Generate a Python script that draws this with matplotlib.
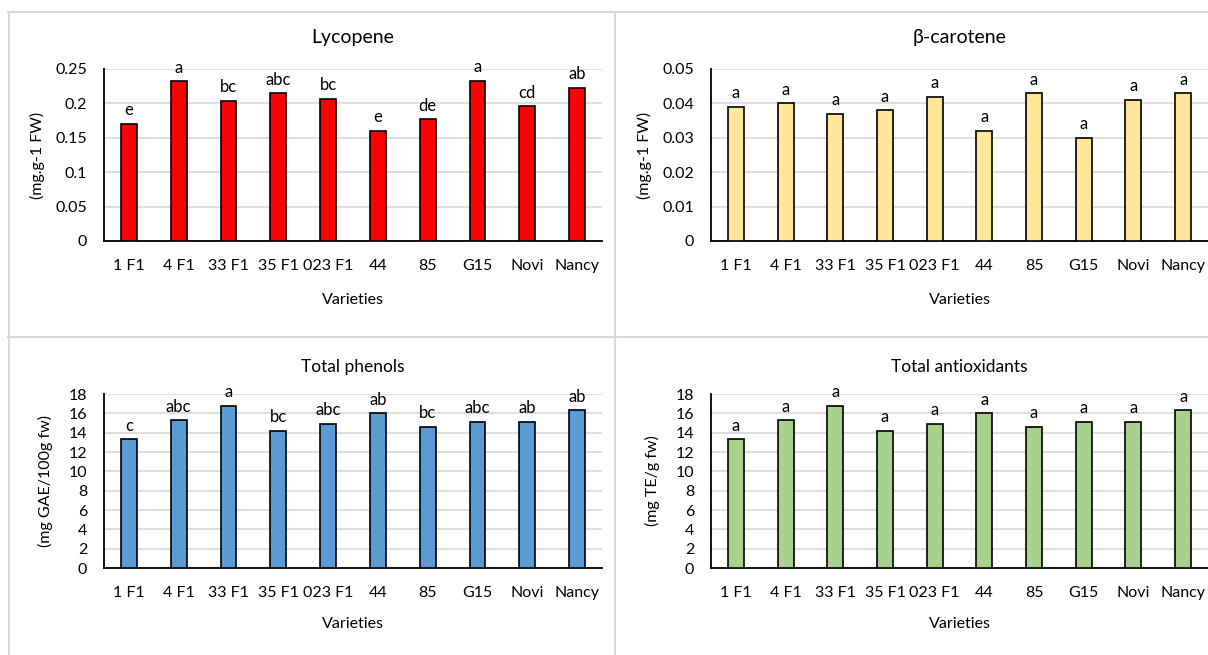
import matplotlib
matplotlib.use("Agg")
import matplotlib.pyplot as plt
from matplotlib.lines import Line2D

plt.rcParams['font.family'] = ['Lato', 'DejaVu Sans']

varieties = ["1 F1", "4 F1", "33 F1", "35 F1", "023 F1", "44", "85", "G15", "Novi", "Nancy"]

lycopene = [0.170, 0.232, 0.204, 0.215, 0.207, 0.160, 0.177, 0.233, 0.196, 0.223]
lycopene_letters = ["e", "a", "bc", "abc", "bc", "e", "de", "a", "cd", "ab"]

carotene = [0.039, 0.040, 0.037, 0.038, 0.042, 0.032, 0.043, 0.030, 0.041, 0.043]
carotene_letters = ["a"] * 10

phenols = [13.3, 15.3, 16.8, 14.2, 14.9, 16.0, 14.6, 15.1, 15.1, 16.3]
phenols_letters = ["c", "abc", "a", "bc", "abc", "ab", "bc", "abc", "ab", "ab"]

antioxidants = [13.3, 15.3, 16.8, 14.2, 14.9, 16.0, 14.6, 15.1, 15.1, 16.3]
antioxidants_letters = ["a"] * 10

W, H = 1208, 655
fig = plt.figure(figsize=(W / 100, H / 100), dpi=100)

GRID = "#D9D9D9"
BORDER = "#D9D9D9"


def hline(y, x0, x1):
    fig.add_artist(Line2D([x0 / W, x1 / W], [1 - y / H, 1 - y / H], color=BORDER, lw=1.5))


def vline(x, y0, y1):
    fig.add_artist(Line2D([x / W, x / W], [1 - y0 / H, 1 - y1 / H], color=BORDER, lw=1.5))


hline(12, 8, 1208)
hline(337, 8, 1208)
vline(8.5, 12, 655)
vline(615, 12, 655)


def panel(rect, values, letters, color, title, title_size, title_pad, ylabel, ylim, yticks,
          ytick_labels, ylabel_x, xlabel_pad):
    ax = fig.add_axes(rect)
    x = list(range(len(values)))
    ax.bar(x, values, width=0.32, color=color, edgecolor="black", linewidth=1.2, zorder=3)
    ax.set_xlim(-0.5, len(values) - 0.5)
    ax.set_ylim(*ylim)
    ax.set_yticks(yticks)
    ax.set_yticklabels(ytick_labels)
    ax.set_xticks(x)
    ax.set_xticklabels(varieties)
    ax.yaxis.grid(True, color=GRID, lw=1.2, zorder=0)
    ax.set_axisbelow(True)
    for s in ["top", "right"]:
        ax.spines[s].set_visible(False)
    for s in ["left", "bottom"]:
        ax.spines[s].set_color("black")
        ax.spines[s].set_linewidth(1.3)
    ax.tick_params(axis="both", length=0, labelsize=11.5, colors="black")
    ax.tick_params(axis="x", pad=13)
    ax.tick_params(axis="y", pad=12)
    ax.set_xlabel("Varieties", fontsize=11.5, labelpad=xlabel_pad)
    ax.set_ylabel(ylabel, fontsize=11.5)
    ax.yaxis.set_label_coords(ylabel_x, 0.5)
    ax.set_title(title, fontsize=title_size, pad=title_pad)
    for xi, v, t in zip(x, values, letters):
        ax.annotate(t, (xi, v), xytext=(0, 4), textcoords="offset points",
                    ha="center", va="bottom", fontsize=12)
    return ax


def fx(px):
    return px / W


def fy(py):
    return 1 - py / H


top_b, top_t = fy(241), fy(69)
bot_b, bot_t = fy(568), fy(394)
left_l, left_r = fx(104), fx(602)
right_l, right_r = fx(711), fx(1208)

panel([left_l, top_b, left_r - left_l, top_t - top_b], lycopene, lycopene_letters, "#FF0000",
      "Lycopene", 14, 19, "(mg.g-1 FW)", (0, 0.25),
      [0, 0.05, 0.1, 0.15, 0.2, 0.25], ["0", "0.05", "0.1", "0.15", "0.2", "0.25"], -0.118, 14)

panel([right_l, top_b, right_r - right_l, top_t - top_b], carotene, carotene_letters, "#FFE699",
      "β-carotene", 14, 19, "(mg.g-1 FW)", (0, 0.05),
      [0, 0.01, 0.02, 0.03, 0.04, 0.05], ["0", "0.01", "0.02", "0.03", "0.04", "0.05"], -0.118, 14)

panel([left_l, bot_b, left_r - left_l, bot_t - bot_b], phenols, phenols_letters, "#5B9BD5",
      "Total phenols", 12.5, 16, "(mg GAE/100g fw)", (0, 18),
      list(range(0, 19, 2)), [str(v) for v in range(0, 19, 2)], -0.102, 12)

panel([right_l, bot_b, right_r - right_l, bot_t - bot_b], antioxidants, antioxidants_letters, "#A9D18E",
      "Total antioxidants", 12.5, 16, "(mg TE/g fw)", (0, 18),
      list(range(0, 19, 2)), [str(v) for v in range(0, 19, 2)], -0.102, 12)

fig.savefig("out.png", dpi=100, facecolor="white")
